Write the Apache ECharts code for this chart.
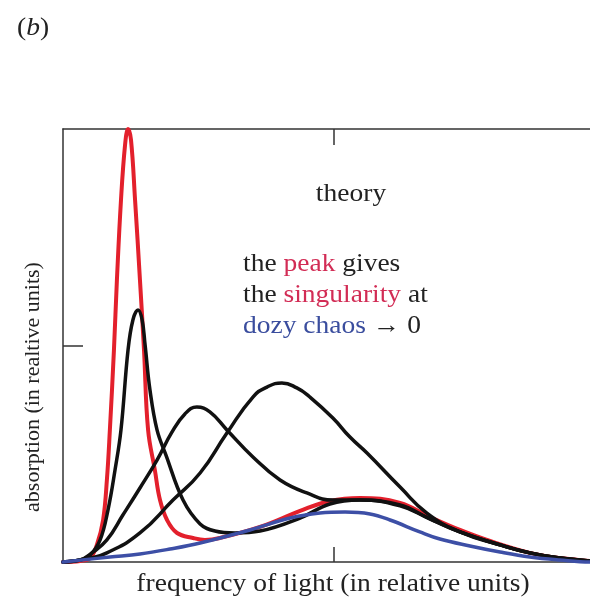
<!DOCTYPE html>
<html>
<head>
<meta charset="utf-8">
<script src="https://cdn.jsdelivr.net/npm/echarts@6/dist/echarts.min.js"></script>
<style>
  html, body { margin: 0; padding: 0; background: #fff; }
  #chart { width: 590px; height: 598px; }
</style>
</head>
<body>
<div id="chart"></div>
<script>
// curves: [frequency, absorption] in relative units
var redPeak = [
  [0, 0], [0.063, 0.005], [0.100, 0.018], [0.125, 0.079], [0.148, 0.194],
  [0.162, 0.379], [0.173, 0.610], [0.188, 0.979], [0.199, 1.303], [0.214, 1.672],
  [0.229, 1.926], [0.240, 2.0], [0.251, 1.949], [0.266, 1.672], [0.284, 1.303],
  [0.299, 0.979], [0.314, 0.610], [0.339, 0.425], [0.358, 0.286], [0.384, 0.194],
  [0.421, 0.134], [0.480, 0.111], [0.524, 0.102], [0.579, 0.111], [0.727, 0.162],
  [0.875, 0.236], [0.985, 0.282], [1.096, 0.296], [1.244, 0.273], [1.354, 0.208],
  [1.465, 0.148], [1.576, 0.097], [1.723, 0.042], [1.834, 0.018], [1.945, 0.005], [2, 0]
];
var black1 = [
  [0, 0], [0.063, 0.009], [0.100, 0.032], [0.137, 0.102], [0.166, 0.240],
  [0.192, 0.425], [0.214, 0.610], [0.240, 0.979], [0.258, 1.118], [0.277, 1.164],
  [0.292, 1.118], [0.303, 1.002], [0.321, 0.794], [0.347, 0.610], [0.380, 0.494],
  [0.443, 0.286], [0.506, 0.176], [0.561, 0.143], [0.635, 0.134], [0.727, 0.143],
  [0.875, 0.203], [0.985, 0.268], [1.096, 0.286], [1.244, 0.263], [1.354, 0.199],
  [1.465, 0.139], [1.613, 0.079], [1.723, 0.042], [1.834, 0.018], [1.945, 0.005], [2, 0]
];
var black2 = [
  [0, 0], [0.063, 0.009], [0.107, 0.042], [0.162, 0.102], [0.221, 0.217],
  [0.284, 0.342], [0.347, 0.471], [0.402, 0.600], [0.450, 0.684], [0.494, 0.716],
  [0.542, 0.693], [0.605, 0.610], [0.701, 0.485], [0.801, 0.379], [0.900, 0.319],
  [0.996, 0.286], [1.096, 0.286], [1.244, 0.259], [1.354, 0.199], [1.465, 0.139],
  [1.613, 0.079], [1.723, 0.042], [1.834, 0.018], [1.945, 0.005], [2, 0]
];
var black3 = [
  [0, 0], [0.100, 0.018], [0.162, 0.042], [0.284, 0.134], [0.406, 0.286],
  [0.506, 0.411], [0.605, 0.596], [0.701, 0.762], [0.753, 0.808], [0.808, 0.827],
  [0.863, 0.804], [0.911, 0.762], [0.996, 0.665], [1.059, 0.577], [1.122, 0.503],
  [1.244, 0.346], [1.343, 0.226], [1.465, 0.139], [1.613, 0.079], [1.723, 0.042],
  [1.834, 0.018], [1.945, 0.005], [2, 0]
];
var blueChaos = [
  [0, 0], [0.173, 0.023], [0.284, 0.037], [0.395, 0.060], [0.506, 0.088],
  [0.690, 0.148], [0.838, 0.203], [0.948, 0.226], [1.041, 0.231], [1.133, 0.222],
  [1.207, 0.194], [1.317, 0.139], [1.391, 0.106], [1.502, 0.074], [1.613, 0.046],
  [1.723, 0.023], [1.834, 0.009], [1.945, 0], [2, 0]
];
var xTicks = [1];
var yTicks = [1];

var serif = '"Liberation Serif", "DejaVu Serif", serif';
var frameLine = { color: '#333', width: 1.5 };

// the picture is cropped at the right, so the x range stops short of 2
function frameAxis(pos, max, ticks, tickLen) {
  return {
    type: 'value', min: 0, max: max, interval: 1, position: pos,
    axisLine: { onZero: false, lineStyle: frameLine },
    axisTick: { inside: true, length: tickLen, customValues: ticks, lineStyle: frameLine },
    axisLabel: { show: false },
    splitLine: { show: false }
  };
}

function curve(data, color, width, smooth) {
  return {
    type: 'line',
    data: data,
    smooth: smooth,
    showSymbol: false,
    clip: false,
    silent: true,
    lineStyle: { color: color, width: width, cap: 'round', join: 'round' }
  };
}

var chart = echarts.init(document.getElementById('chart'));
chart.setOption({
  backgroundColor: '#fff',
  animation: false,
  grid: { left: 63, top: 129, right: 0, bottom: 36 },
  xAxis: [frameAxis('bottom', 1.945, xTicks, 15), frameAxis('top', 1.945, xTicks, 16)],
  yAxis: [frameAxis('left', 2, yTicks, 20)],
  series: [
    curve(redPeak, '#e3202c', 4, 0.4),
    curve(black3, '#111', 3.5, 0.5),
    curve(black2, '#111', 3.5, 0.45),
    curve(black1, '#111', 3.5, 0.4),
    curve(blueChaos, '#3d4fa6', 3.5, 0.4)
  ],
  graphic: [
    { type: 'text', x: 17, y: 28, scaleX: 1.1,
      style: { text: '({b|b})', font: '25px ' + serif, fill: '#222',
        textAlign: 'left', textVerticalAlign: 'middle',
        rich: { b: { fontStyle: 'italic', fontSize: 25, fontFamily: serif, fill: '#222' } } } },
    { type: 'text', x: 351, y: 194, scaleX: 1.1,
      style: { text: 'theory', font: '25px ' + serif, fill: '#222',
        textAlign: 'center', textVerticalAlign: 'middle' } },
    { type: 'text', x: 243, y: 295, scaleX: 1.1,
      style: {
        text: 'the {r|peak} gives\nthe {r|singularity} at\n{b|dozy chaos} \u2192 0',
        font: '25px ' + serif, fill: '#222', lineHeight: 31,
        textAlign: 'left', textVerticalAlign: 'middle',
        rich: {
          r: { fill: '#d22c55', fontSize: 25, fontFamily: serif, lineHeight: 31 },
          b: { fill: '#3a4d9e', fontSize: 25, fontFamily: serif, lineHeight: 31 }
        }
      } },
    { type: 'text', x: 333, y: 584, scaleX: 1.1,
      style: { text: 'frequency of light (in relative units)', font: '25px ' + serif, fill: '#222',
        textAlign: 'center', textVerticalAlign: 'middle' } },
    { type: 'text', x: 33, y: 387, rotation: Math.PI / 2,
      style: { text: 'absorption (in realtive units)', font: '22px ' + serif, fill: '#222',
        textAlign: 'center', textVerticalAlign: 'middle' } }
  ]
});
</script>
</body>
</html>
